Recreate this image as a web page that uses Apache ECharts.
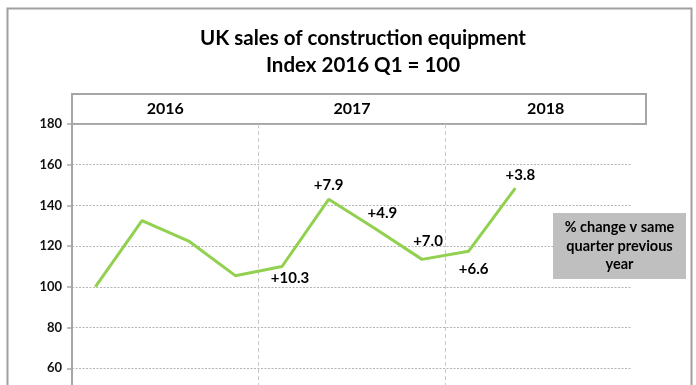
<!DOCTYPE html>
<html>
<head>
<meta charset="utf-8">
<script src="https://cdn.jsdelivr.net/npm/echarts@6/dist/echarts.min.js"></script>
<style>
html,body{margin:0;padding:0;background:#fff;overflow:hidden;}
#c{width:696px;height:430px;}
</style>
</head>
<body>
<div id="c"></div>
<script>
var quarters = ['2016 Q1','2016 Q2','2016 Q3','2016 Q4','2017 Q1','2017 Q2','2017 Q3','2017 Q4','2018 Q1','2018 Q2','2018 Q3','2018 Q4'];
var indexValues = [100, 132.5, 122.5, 105.5, 110, 143, 128.5, 113.5, 117.5, 148.5];
var changeLabels = ['', '', '', '', '+10.3', '+7.9', '+4.9', '+7.0', '+6.6', '+3.8'];
var years = ['2016', '2017', '2018'];
var yTicks = {min: 40, max: 180, interval: 20};
var titleLines = ['UK sales of construction equipment', 'Index 2016 Q1 = 100'];
var noteText = ['% change v same', 'quarter previous', 'year'];

var FONT = 'Lato, "Open Sans", sans-serif';
var labelPlacement = {
  4: {position: 'bottom', distance: 4, offset: [8, 0]},
  5: {position: 'top', distance: 6, offset: [0, 0]},
  6: {position: 'top', distance: 8, offset: [7, 0]},
  7: {position: 'top', distance: 10, offset: [6, 0]},
  8: {position: 'bottom', distance: 10, offset: [5, 0]},
  9: {position: 'top', distance: 5, offset: [5, 0]}
};

var lineData = indexValues.map(function (v, i) {
  var item = {value: v};
  if (changeLabels[i]) {
    var p = labelPlacement[i];
    item.label = {show: true, formatter: changeLabels[i], position: p.position, distance: p.distance, offset: p.offset};
  }
  return item;
});

var bandMax = 12.3;
var yearData = years.map(function (y, i) {
  var a = i * 4, b = (i === years.length - 1) ? bandMax : (i + 1) * 4;
  return {value: [(a + b) / 2, 0.5], name: y};
});

var vColors = [];
for (var k = 0; k <= quarters.length; k++) {
  vColors.push(k % 4 === 0 && k > 0 && k < quarters.length ? '#c8c8c8' : 'rgba(0,0,0,0)');
}

var chart = echarts.init(document.getElementById('c'), null, {renderer: 'canvas'});
chart.setOption({
  animation: false,
  backgroundColor: '#ffffff',
  title: {
    text: titleLines.join('\n'),
    left: 358,
    textAlign: 'center',
    top: 20,
    textStyle: {fontFamily: FONT, fontSize: 20.5, fontWeight: 'bold', color: '#000', lineHeight: 27}
  },
  grid: [
    {left: 72, top: 124, width: 560, height: 285, containLabel: false},
    {left: 72, top: 94, width: 574, height: 30, show: true, borderColor: '#a6a6a6', borderWidth: 2, backgroundColor: 'transparent'}
  ],
  xAxis: [
    {
      gridIndex: 0, type: 'category', data: quarters, boundaryGap: true,
      axisLine: {show: false}, axisTick: {show: false}, axisLabel: {show: false},
      splitLine: {show: true, interval: 0,
        lineStyle: {color: vColors, type: [4, 3], width: 1}}
    },
    {
      gridIndex: 1, type: 'value', min: 0, max: bandMax, show: false
    }
  ],
  yAxis: [
    {
      gridIndex: 0, type: 'value', min: yTicks.min, max: yTicks.max, interval: yTicks.interval,
      axisLine: {show: true, lineStyle: {color: '#a6a6a6', width: 2}},
      axisTick: {show: true, length: 5, lineStyle: {color: '#a6a6a6', width: 1.5}},
      axisLabel: {fontFamily: FONT, fontSize: 13, fontWeight: 'bold', color: '#111', margin: 10,
        formatter: function (v) { return v >= 60 ? String(v) : ''; }},
      splitLine: {show: true, lineStyle: {color: '#b4b4b4', type: [2, 1.5], width: 1}}
    },
    {gridIndex: 1, type: 'value', min: 0, max: 1, show: false}
  ],
  series: [
    {
      type: 'line', xAxisIndex: 0, yAxisIndex: 0, data: lineData,
      showSymbol: true, symbol: 'circle', symbolSize: 1,
      itemStyle: {color: 'rgba(0,0,0,0)'},
      lineStyle: {color: '#92d050', width: 3},
      label: {fontFamily: FONT, fontSize: 15, fontWeight: 'bold', color: '#000'},
      emphasis: {disabled: true},
      z: 5
    },
    {
      type: 'scatter', xAxisIndex: 1, yAxisIndex: 1, data: yearData, symbolSize: 1,
      itemStyle: {color: 'rgba(0,0,0,0)', opacity: 1},
      label: {show: true, position: 'inside', formatter: '{b}', fontFamily: FONT, fontSize: 16, fontWeight: 'bold', color: '#000'},
      emphasis: {disabled: true}
    }
  ],
  graphic: [
    {type: 'rect', left: 5, top: 6, shape: {width: 684, height: 500}, style: {fill: 'none', stroke: '#a0a0a0', lineWidth: 2}, z: 0},
    {type: 'group', left: 553, top: 213, z: 100, children: [
      {type: 'rect', z: 100, shape: {x: 0, y: 0, width: 133, height: 66}, style: {fill: '#bfbfbf'}},
      {type: 'text', z: 101, x: 66.5, y: 33, style: {text: noteText.join('\n'), font: 'bold 14.5px ' + FONT, fill: '#000', align: 'center', verticalAlign: 'middle', lineHeight: 18.5}}
    ]}
  ]
});
</script>
</body>
</html>
